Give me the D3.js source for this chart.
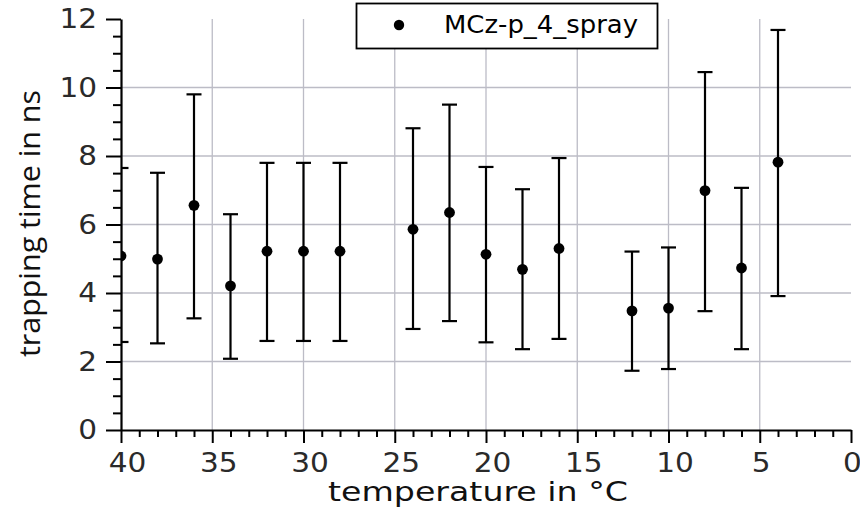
<!DOCTYPE html>
<html>
<head>
<meta charset="utf-8">
<script src="https://cdn.jsdelivr.net/npm/d3@7"></script>
<style>
  html, body { margin: 0; padding: 0; background: #fff; }
  svg { display: block; }
</style>
</head>
<body>
<svg id="chart" width="860" height="512"></svg>
<script>
// Trapping time vs. temperature, sample MCz-p_4_spray
const temperatures = [40, 38, 36, 34, 32, 30, 28, 24, 22, 20, 18, 16, 12, 10, 8, 6, 4];
const trapTime     = [5.08, 4.99, 6.56, 4.21, 5.22, 5.22, 5.22, 5.86, 6.35, 5.13, 4.69, 5.30, 3.48, 3.56, 6.99, 4.73, 7.82];
const errUpper     = [7.65, 7.51, 9.80, 6.30, 7.80, 7.80, 7.80, 8.81, 9.50, 7.68, 7.03, 7.94, 5.21, 5.33, 10.45, 7.07, 11.68];
const errLower     = [2.57, 2.53, 3.26, 2.08, 2.60, 2.60, 2.60, 2.95, 3.18, 2.56, 2.36, 2.66, 1.73, 1.78, 3.47, 2.36, 3.91];

const xMajorTicks = [40, 35, 30, 25, 20, 15, 10, 5, 0];
const yMajorTicks = [0, 2, 4, 6, 8, 10, 12];
const seriesName = "MCz-p_4_spray";
const xTitle = "temperature in °C";
const yTitle = "trapping time in ns";

const svg = d3.select("#chart");
const plotLeft = 121, plotRight = 851, plotTop = 19, plotBottom = 430;

const x = d3.scaleLinear().domain([40, 0]).range([plotLeft, plotRight]);
const y = d3.scaleLinear().domain([0, 12]).range([plotBottom, plotTop]);

const xMinor = d3.range(0, 41, 1).filter(v => v % 5 !== 0);
const yMinor = d3.range(0, 12.01, 0.5).filter(v => v % 2 !== 0);

// grid
const grid = svg.append("g").attr("stroke", "#bcbcc6").attr("stroke-width", 1.3);
grid.selectAll("line.gx").data(xMajorTicks.filter(v => v !== 40 && v !== 0)).join("line")
  .attr("class", "gx")
  .attr("x1", d => x(d)).attr("x2", d => x(d)).attr("y1", plotTop).attr("y2", plotBottom);
grid.selectAll("line.gy").data(yMajorTicks.filter(v => v !== 0 && v !== 12)).join("line")
  .attr("class", "gy")
  .attr("x1", plotLeft).attr("x2", plotRight).attr("y1", d => y(d)).attr("y2", d => y(d));

// data
svg.append("clipPath").attr("id", "plot-clip")
  .append("rect").attr("x", plotLeft).attr("y", 0)
  .attr("width", plotRight - plotLeft + 10).attr("height", plotBottom);

const data = temperatures.map((t, i) => ({ t, v: trapTime[i], hi: errUpper[i], lo: errLower[i] }));
const marks = svg.append("g").attr("clip-path", "url(#plot-clip)");
const capW = 7.5;
const eb = marks.selectAll("g.pt").data(data).join("g")
  .attr("class", "pt")
  .attr("stroke", "#000").attr("stroke-width", 2.2);
eb.append("line")
  .attr("x1", d => x(d.t)).attr("x2", d => x(d.t))
  .attr("y1", d => y(d.hi)).attr("y2", d => y(d.lo));
eb.append("line")
  .attr("x1", d => x(d.t) - capW).attr("x2", d => x(d.t) + capW)
  .attr("y1", d => y(d.hi)).attr("y2", d => y(d.hi));
eb.append("line")
  .attr("x1", d => x(d.t) - capW).attr("x2", d => x(d.t) + capW)
  .attr("y1", d => y(d.lo)).attr("y2", d => y(d.lo));
marks.selectAll("ellipse").data(data).join("ellipse")
  .attr("cx", d => x(d.t)).attr("cy", d => y(d.v))
  .attr("rx", 5.4).attr("ry", 5.4).attr("fill", "#000");

// axes
const tickFont = "'DejaVu Sans', sans-serif";
function styleAxis(g) {
  g.select(".domain").attr("stroke", "#000").attr("stroke-width", 2.2);
  g.selectAll(".tick line").attr("stroke", "#000").attr("stroke-width", 2);
  g.selectAll(".tick text").attr("fill", "#2a2a2a")
    .style("font-family", tickFont).style("font-size", "27px")
    .attr("textLength", function () { return this.textContent.length * 18.8; })
    .attr("lengthAdjust", "spacingAndGlyphs");
}

const xAxisG = svg.append("g").attr("transform", `translate(0,${plotBottom})`);
xAxisG.append("g").call(d3.axisBottom(x).tickValues(xMinor).tickSize(7).tickFormat("").tickSizeOuter(0))
  .call(g => g.select(".domain").remove())
  .call(g => g.selectAll(".tick line").attr("stroke", "#000").attr("stroke-width", 2));
xAxisG.append("g").call(d3.axisBottom(x).tickValues(xMajorTicks).tickSize(13).tickPadding(10)
  .tickFormat(d3.format("d")).tickSizeOuter(0))
  .call(styleAxis)
  .call(g => g.selectAll(".tick text")
    .attr("dx", function () { return this.textContent.length > 1 ? 6 : 1; }));

const yAxisG = svg.append("g").attr("transform", `translate(${plotLeft},0)`);
yAxisG.append("g").call(d3.axisLeft(y).tickValues(yMinor).tickSize(8).tickFormat("").tickSizeOuter(0))
  .call(g => g.select(".domain").remove())
  .call(g => g.selectAll(".tick line").attr("stroke", "#000").attr("stroke-width", 2));
yAxisG.append("g").call(d3.axisLeft(y).tickValues(yMajorTicks).tickSize(15).tickPadding(9)
  .tickFormat(d3.format("d")).tickSizeOuter(0))
  .call(styleAxis);

// axis titles
svg.append("text")
  .attr("x", 328).attr("y", 501)
  .attr("textLength", 300).attr("lengthAdjust", "spacingAndGlyphs")
  .style("font-family", "'DejaVu Sans', sans-serif").style("font-size", "27px")
  .attr("fill", "#111").text(xTitle);

svg.append("text")
  .attr("transform", "translate(40,357) rotate(-90)")
  .attr("textLength", 267).attr("lengthAdjust", "spacingAndGlyphs")
  .style("font-family", "'Open Sans', sans-serif").style("font-size", "30px")
  .attr("fill", "#111").text(yTitle);

// legend
const lg = svg.append("g");
lg.append("rect").attr("x", 356.5).attr("y", 3.5).attr("width", 301).attr("height", 45)
  .attr("fill", "#fff").attr("stroke", "#000").attr("stroke-width", 1.8);
lg.append("circle").attr("cx", 399).attr("cy", 25).attr("r", 5.2).attr("fill", "#000");
lg.append("text").attr("x", 444).attr("y", 33)
  .attr("textLength", 194).attr("lengthAdjust", "spacingAndGlyphs")
  .style("font-family", "'DejaVu Sans', sans-serif").style("font-size", "25px")
  .attr("fill", "#000").text(seriesName);
</script>
</body>
</html>
